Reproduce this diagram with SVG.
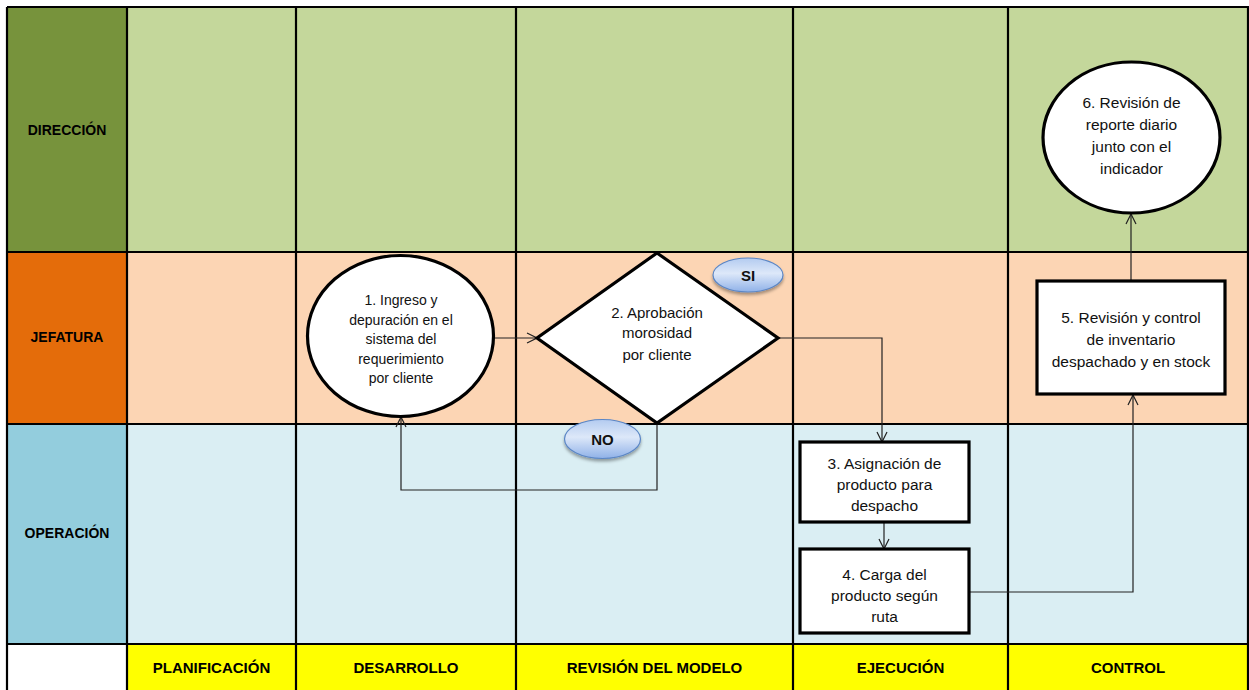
<svg xmlns="http://www.w3.org/2000/svg" width="1249" height="690" viewBox="0 0 1249 690">
  <defs>
    <style>
      .grid { stroke: #000; stroke-width: 2.2; fill: none; }
      .lane { font-family: "Liberation Sans", Arial, sans-serif; font-weight: bold; font-size: 14px; fill: #000; text-anchor: middle; }
      .phase { font-family: "Liberation Sans", Arial, sans-serif; font-weight: bold; font-size: 15px; fill: #000; text-anchor: middle; }
      .shape { fill: #fff; stroke: #000; stroke-width: 3.2; }
      .t13 { font-family: "Liberation Sans", Arial, sans-serif; font-size: 14px; fill: #111; text-anchor: middle; }
      .t14 { font-family: "Liberation Sans", Arial, sans-serif; font-size: 15px; fill: #111; text-anchor: middle; }
      .t15 { font-family: "Liberation Sans", Arial, sans-serif; font-size: 15.5px; fill: #111; text-anchor: middle; }
      .conn { fill: none; stroke: #222; stroke-width: 1.2; }
      .tag { fill: url(#tagFill); stroke: #5b86c5; stroke-width: 1.2; filter: url(#tagShadow); }
      .tagText { font-family: "Liberation Sans", Arial, sans-serif; font-weight: bold; font-size: 15px; fill: #111; text-anchor: middle; }
    </style>
    <linearGradient id="tagFill" x1="0" y1="0" x2="0" y2="1">
      <stop offset="0" stop-color="#b3cbf0"/>
      <stop offset="0.45" stop-color="#dde8f9"/>
      <stop offset="1" stop-color="#8fb1e8"/>
    </linearGradient>
    <filter id="tagShadow" x="-30%" y="-30%" width="160%" height="180%">
      <feDropShadow dx="0" dy="2.5" stdDeviation="1.8" flood-color="#000" flood-opacity="0.35"/>
    </filter>
    <marker id="open" viewBox="0 0 12 12" refX="11" refY="6" markerWidth="12" markerHeight="12" markerUnits="userSpaceOnUse" orient="auto">
      <path d="M1,1 L11,6 L1,11" fill="none" stroke="#222" stroke-width="1.2"/>
    </marker>
  </defs>

  <!-- swimlane backgrounds -->
  <g id="lanes">
    <rect x="7" y="7" width="120" height="245" fill="#77933c"/>
    <rect x="127" y="7" width="1122" height="245" fill="#c4d79b"/>
    <rect x="7" y="252" width="120" height="172" fill="#e46c0a"/>
    <rect x="127" y="252" width="1122" height="172" fill="#fcd5b4"/>
    <rect x="7" y="424" width="120" height="220" fill="#93cddd"/>
    <rect x="127" y="424" width="1122" height="220" fill="#daeef3"/>
    <rect x="7" y="644" width="120" height="46" fill="#fff"/>
    <rect x="127" y="644" width="1122" height="46" fill="#ffff00"/>
    <path class="grid" d="M7,7 H1249 M7,252 H1249 M7,424 H1249 M7,644 H1249 M7,7 V690 M127,7 V690 M296,7 V690 M516,7 V690 M793,7 V690 M1008,7 V690 M1248,7 V690"/>
    <text class="lane" x="67" y="135">DIRECCIÓN</text>
    <text class="lane" x="67" y="342">JEFATURA</text>
    <text class="lane" x="67" y="538">OPERACIÓN</text>
    <text class="phase" x="211.5" y="673">PLANIFICACIÓN</text>
    <text class="phase" x="406" y="673">DESARROLLO</text>
    <text class="phase" x="654.5" y="673">REVISIÓN DEL MODELO</text>
    <text class="phase" x="900.5" y="673">EJECUCIÓN</text>
    <text class="phase" x="1128" y="673">CONTROL</text>
  </g>

  <!-- connectors -->
  <g id="connectors">
    <path class="conn" d="M494,338 H537" marker-end="url(#open)"/>
    <path class="conn" d="M657,423 V490 H401 V417" marker-end="url(#open)"/>
    <path class="conn" d="M778,338 H882 V442" marker-end="url(#open)"/>
    <path class="conn" d="M884,522 V549" marker-end="url(#open)"/>
    <path class="conn" d="M969,592 H1133 V395" marker-end="url(#open)"/>
    <path class="conn" d="M1131,281 V214" marker-end="url(#open)"/>
  </g>

  <g id="node1">
    <ellipse class="shape" cx="400.5" cy="336" rx="93" ry="80.5"/>
    <text class="t13" x="401" y="305">1. Ingreso y</text>
    <text class="t13" x="401" y="324.5">depuración en el</text>
    <text class="t13" x="401" y="344">sistema del</text>
    <text class="t13" x="401" y="363.5">requerimiento</text>
    <text class="t13" x="401" y="383">por cliente</text>
  </g>

  <g id="node2">
    <polygon class="shape" points="657,253 778,338 657,423 537,338"/>
    <text class="t14" x="657" y="318">2. Aprobación</text>
    <text class="t14" x="657" y="338">morosidad</text>
    <text class="t14" x="657" y="360">por cliente</text>
  </g>

  <g id="tagSi">
    <ellipse class="tag" cx="748" cy="275" rx="35" ry="17"/>
    <text class="tagText" x="748" y="280.5">SI</text>
  </g>

  <g id="tagNo">
    <ellipse class="tag" cx="602.5" cy="439" rx="38" ry="19.5"/>
    <text class="tagText" x="602.5" y="444.5">NO</text>
  </g>

  <g id="node3">
    <rect class="shape" x="800" y="442" width="169" height="80"/>
    <text class="t15" x="884.5" y="468.5">3. Asignación de</text>
    <text class="t15" x="884.5" y="489.5">producto para</text>
    <text class="t15" x="884.5" y="510.5">despacho</text>
  </g>

  <g id="node4">
    <rect class="shape" x="800" y="549" width="169" height="84"/>
    <text class="t15" x="884.5" y="579.5">4. Carga del</text>
    <text class="t15" x="884.5" y="600.5">producto según</text>
    <text class="t15" x="884.5" y="621.5">ruta</text>
  </g>

  <g id="node5">
    <rect class="shape" x="1037" y="281" width="188" height="113"/>
    <text class="t15" x="1131" y="322.5">5. Revisión y control</text>
    <text class="t15" x="1131" y="344.5">de inventario</text>
    <text class="t15" x="1131" y="366.5">despachado y en stock</text>
  </g>

  <g id="node6">
    <ellipse class="shape" cx="1131.5" cy="137.5" rx="88.5" ry="75.5"/>
    <text class="t15" x="1131.5" y="107.5">6. Revisión de</text>
    <text class="t15" x="1131.5" y="129.5">reporte diario</text>
    <text class="t15" x="1131.5" y="151.5">junto con el</text>
    <text class="t15" x="1131.5" y="173.5">indicador</text>
  </g>
</svg>
